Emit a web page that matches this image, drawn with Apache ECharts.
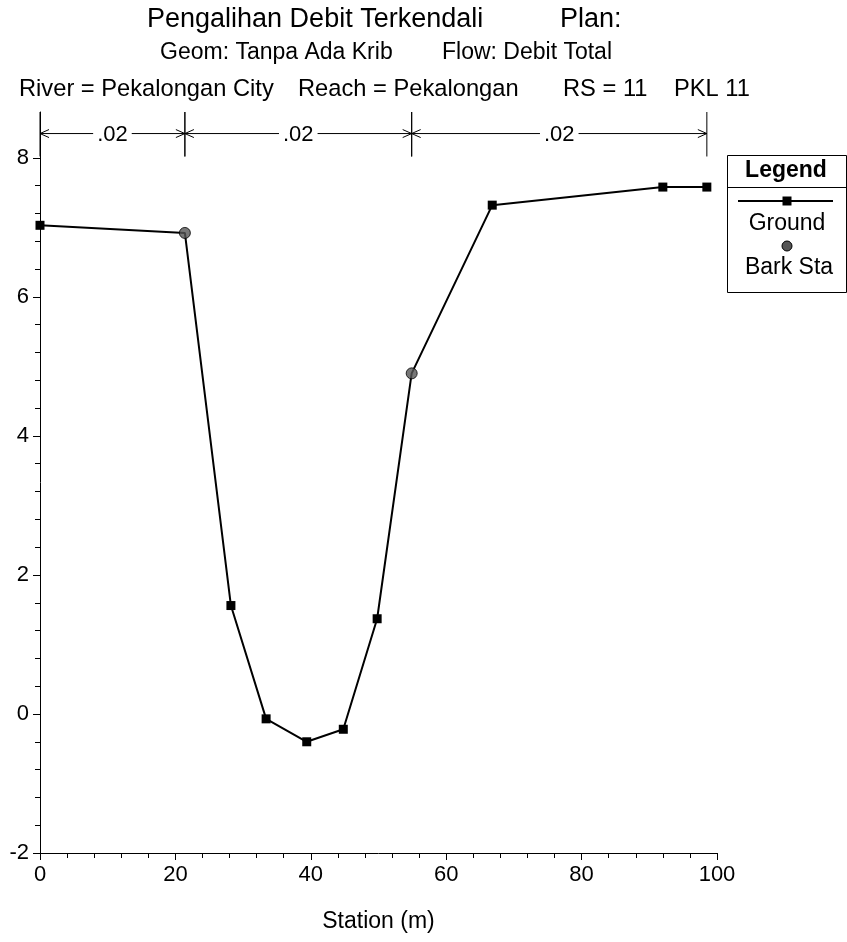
<!DOCTYPE html>
<html>
<head>
<meta charset="utf-8">
<script src="https://cdn.jsdelivr.net/npm/echarts@6/dist/echarts.min.js"></script>
<style>
  html, body { margin: 0; padding: 0; background: #fff; }
  #chart { width: 847px; height: 942px; }
</style>
</head>
<body>
<div id="chart"></div>
<script>
// Cross-section survey points (station in m, ground elevation)
const stations   = [0, 21.4, 28.2, 33.4, 39.4, 44.8, 49.8, 54.9, 66.8, 92.0, 98.5];
const elevations = [7.03, 6.92, 1.56, -0.07, -0.40, -0.22, 1.37, 4.90, 7.32, 7.58, 7.58];

// Left / right bank stations
const bankStations = [21.4, 54.9];

// Manning's n breakpoints and values
const nBreaks = [0, 21.4, 54.9, 98.5];
const nValues = ['.02', '.02', '.02'];

// Axis ticks
const xTicks = [0, 20, 40, 60, 80, 100];
const yTicks = [-2, 0, 2, 4, 6, 8];

const FONT = '"Liberation Sans", Arial, sans-serif';
const Y_MIN = -2, Y_MAX = 8.66;
const N_ARROW_Y = 8.35, N_TICK_TOP = 8.66, N_TICK_BOT = 8.02;

const yMinor = [];
for (let v = -2; v <= 8.0001; v += 0.4) yMinor.push(Math.round(v * 10) / 10);

const groundData = stations.map((s, i) => ({
  value: [s, elevations[i]],
  symbol: bankStations.includes(s) ? 'none' : 'rect'
}));
const bankData = bankStations.map(s => [s, elevations[stations.indexOf(s)]]);
const nSegments = nValues.map((v, i) => [nBreaks[i], nBreaks[i + 1]]);

const chart = echarts.init(document.getElementById('chart'), null, { renderer: 'canvas' });

const txt = (text, x, y, size, opts = {}) => ({
  type: 'text', x, y, silent: true,
  style: {
    text, fill: '#000', font: `${opts.weight || 'normal'} ${size}px ${FONT}`,
    textAlign: opts.align || 'left', textVerticalAlign: 'middle'
  }
});

chart.setOption({
  animation: false,
  backgroundColor: '#fff',
  grid: { left: 40, right: 130, top: 112, bottom: 89, containLabel: false },
  xAxis: {
    type: 'value', min: 0, max: 100, interval: 20,
    axisLine: { show: true, onZero: false, lineStyle: { color: '#000', width: 1 } },
    axisTick: { show: true, length: 7, lineStyle: { color: '#000' } },
    minorTick: { show: true, splitNumber: 5, length: 5, lineStyle: { color: '#000' } },
    axisLabel: { fontSize: 22, color: '#000', fontFamily: FONT, margin: 11 },
    splitLine: { show: false },
    name: 'Station (m)', nameLocation: 'middle', nameGap: 57,
    nameTextStyle: { fontSize: 23, color: '#000', fontFamily: FONT }
  },
  yAxis: [{
    type: 'value', min: Y_MIN, max: Y_MAX, position: 'left', offset: 0,
    axisLine: { show: true, onZero: false, lineStyle: { color: '#000', width: 1 } },
    axisTick: { show: true, customValues: yTicks, length: 7, lineStyle: { color: '#000' } },
    axisLabel: { customValues: yTicks, fontSize: 22, color: '#000', fontFamily: FONT, margin: 11 },
    splitLine: { show: false }
  }, {
    type: 'value', min: Y_MIN, max: Y_MAX, position: 'left', offset: 0,
    axisLine: { show: false },
    axisTick: { show: true, customValues: yMinor, length: 5, lineStyle: { color: '#000' } },
    axisLabel: { show: false },
    splitLine: { show: false }
  }],
  series: [{
    name: 'Ground', type: 'line', data: groundData,
    symbolSize: 9, itemStyle: { color: '#000' },
    lineStyle: { color: '#000', width: 2 }, z: 3
  }, {
    name: 'Bank Sta', type: 'scatter', data: bankData,
    symbol: 'circle', symbolSize: 11,
    itemStyle: { color: '#555', borderColor: '#000', borderWidth: 1 }, z: 4
  }, {
    name: 'n', type: 'custom', data: nSegments, clip: false, z: 2,
    renderItem(params, api) {
      const a = api.coord([api.value(0), N_ARROW_Y]);
      const b = api.coord([api.value(1), N_ARROW_Y]);
      const top = api.coord([0, N_TICK_TOP])[1];
      const bot = api.coord([0, N_TICK_BOT])[1];
      const y = a[1], ah = 9, aw = 4;
      const ls = { stroke: '#000', lineWidth: 1, fill: null };
      return {
        type: 'group',
        children: [
          { type: 'line', shape: { x1: a[0], y1: y, x2: b[0], y2: y }, style: ls },
          { type: 'polyline', shape: { points: [[a[0] + ah, y - aw], [a[0], y], [a[0] + ah, y + aw]] }, style: ls },
          { type: 'polyline', shape: { points: [[b[0] - ah, y - aw], [b[0], y], [b[0] - ah, y + aw]] }, style: ls },
          { type: 'line', shape: { x1: a[0], y1: top, x2: a[0], y2: bot }, style: ls },
          { type: 'line', shape: { x1: b[0], y1: top, x2: b[0], y2: bot }, style: ls },
          {
            type: 'text', x: (a[0] + b[0]) / 2, y: y + 1,
            style: {
              text: nValues[params.dataIndex], fill: '#000', font: `22px ${FONT}`,
              textAlign: 'center', textVerticalAlign: 'middle',
              backgroundColor: '#fff', padding: [0, 4]
            }
          }
        ]
      };
    }
  }],
  graphic: [
    txt('Pengalihan Debit Terkendali', 147, 20, 27),
    txt('Plan:', 560, 20, 27),
    txt('Geom: Tanpa Ada Krib', 160, 53, 23),
    txt('Flow: Debit Total', 442, 53, 23),
    txt('River = Pekalongan City', 19, 89, 23.7),
    txt('Reach = Pekalongan', 298, 89, 23.7),
    txt('RS = 11', 563, 89, 23.7),
    txt('PKL 11', 674, 89, 23.7),
    // Legend box
    { type: 'rect', shape: { x: 727.5, y: 155.5, width: 119, height: 137 }, style: { fill: '#fff', stroke: '#000', lineWidth: 1 } },
    txt('Legend', 786, 171, 23, { weight: 'bold', align: 'center' }),
    { type: 'line', shape: { x1: 727, y1: 187.5, x2: 847, y2: 187.5 }, style: { stroke: '#000', lineWidth: 1 } },
    { type: 'line', shape: { x1: 738, y1: 201, x2: 833, y2: 201 }, style: { stroke: '#000', lineWidth: 2 } },
    { type: 'rect', shape: { x: 782.5, y: 196.5, width: 9, height: 9 }, style: { fill: '#000' } },
    txt('Ground', 787, 224, 23, { align: 'center' }),
    { type: 'circle', shape: { cx: 787, cy: 246, r: 5 }, style: { fill: '#555', stroke: '#000', lineWidth: 1 } },
    txt('Bark Sta', 789, 268, 23, { align: 'center' })
  ]
});
</script>
</body>
</html>
